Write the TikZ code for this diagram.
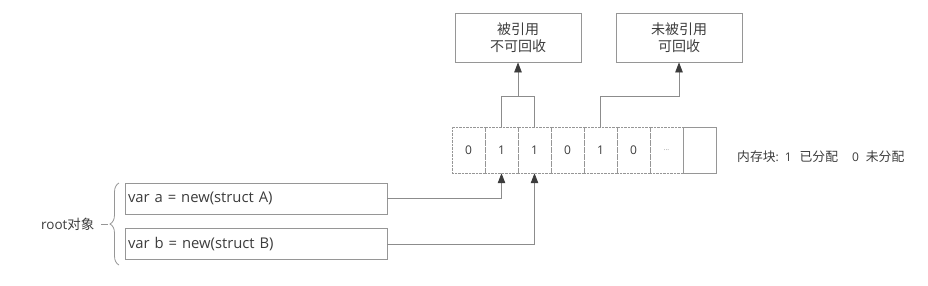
\documentclass[tikz,border=0pt]{standalone}
\usepackage{fontspec}
\setmainfont{Open Sans}
\newfontfamily\cjk{Noto Sans CJK SC}
\usetikzlibrary{arrows.meta,positioning,decorations.pathreplacing,calc}
\definecolor{boxline}{RGB}{150,150,150}
\definecolor{linkline}{RGB}{140,140,140}
\definecolor{inkdark}{RGB}{60,60,60}

\begin{document}
\begin{tikzpicture}[x=1pt, y=-1pt, every node/.style={font=\fontsize{12}{14}\selectfont, text=inkdark}]
\tikzset{
  tagbox/.style={draw=boxline, thick, minimum width=126pt, minimum height=49pt, align=center, inner sep=0pt, font=\cjk\fontsize{14}{16.5}\selectfont},
  cell/.style={draw=boxline, densely dotted, minimum width=33pt, minimum height=46pt, inner sep=0pt},
  varbox/.style={draw=boxline, thick, minimum width=262pt, minimum height=31pt, text width=256pt, align=left, inner sep=3pt, font=\fontsize{14.8}{17}\selectfont},
  link/.style={draw=linkline, thick},
  linkarrow/.style={link, -{Triangle[length=10pt,width=7.5pt,color=inkdark]}},
}
\useasboundingbox (0,0) rectangle (928,285);
% memory cells
\foreach \v [count=\i] in {0,1,1,0,1,0} {
  \node[cell] (c\i) at ({452+33*(\i-0.5)},150) {\v};
}
\node[cell, text=boxline] (c7) at ({452+33*6.5},150) {\scriptsize...};
\node[cell, solid, thick] (c8) at ({452+33*7.5},150) {};
\node[anchor=west, inner sep=0pt, font=\fontsize{12}{14}\selectfont] (legend) at (737,157)
  {{\cjk\fontsize{12.8}{14}\selectfont 内存块}:\hspace{6pt}1\hspace{8pt}{\cjk\fontsize{12.8}{14}\selectfont 已分配}\hspace{14pt}0\hspace{7pt}{\cjk\fontsize{12.8}{14}\selectfont 未分配}};
% tag boxes
\node[tagbox] (keep) at (518,37.5) {被引用\\不可回收};
\node[tagbox] (free) at (679,37.5) {未被引用\\可回收};
% root vars
\node[varbox] (vara) at (256,198.5) {var a = new(struct A)};
\node[varbox] (varb) at (256,244) {var b = new(struct B)};
\draw[boxline, thick, decorate, decoration={brace, amplitude=9pt}]
  (119,265) -- (119,183) coordinate[midway] (bracemid);
\node[left=21pt of bracemid, font=\fontsize{13.5}{16}\selectfont] (rootlbl) {root{\cjk 对象}};
\draw[boxline, thick] (rootlbl.east) ++(3,0) -- ++(7,0);
% links
\draw[link] (c2.north) -- ++(0,-30) -| (c3.north);
\draw[linkarrow] ($(c2.north)!0.5!(c3.north)+(0,-30)$) -- (keep.south);
\draw[linkarrow] (c5.north) -- ++(0,-30) -| (free.south);
\draw[linkarrow] (vara.east) -| (c2.south);
\draw[linkarrow] (varb.east) -| (c3.south);
\end{tikzpicture}
\end{document}
